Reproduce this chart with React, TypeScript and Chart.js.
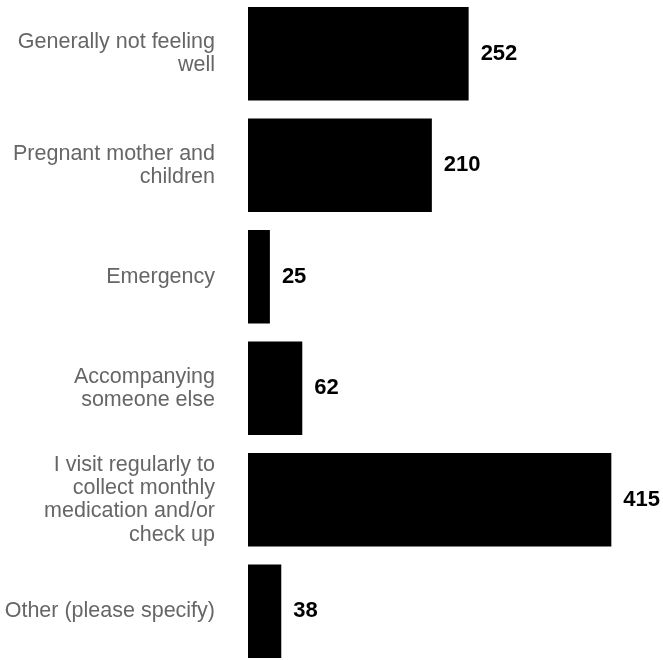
import React, { useEffect, useRef } from "react";
import { Chart, registerables } from "chart.js";

Chart.register(...registerables);

const categories: (string | string[])[] = [
  ["Generally not feeling", "well"],
  ["Pregnant mother and", "children"],
  "Emergency",
  ["Accompanying", "someone else"],
  ["I visit regularly to", "collect monthly", "medication and/or", "check up"],
  "Other (please specify)",
];
const values: number[] = [252, 210, 25, 62, 415, 38];

const FONT = "'Liberation Sans', Arial, Helvetica, sans-serif";

const valueLabels = {
  id: "valueLabels",
  afterDatasetsDraw(chart: any) {
    const ctx = chart.ctx;
    const meta = chart.getDatasetMeta(0);
    ctx.save();
    ctx.font = `bold 22px ${FONT}`;
    ctx.fillStyle = "#000000";
    ctx.textAlign = "left";
    ctx.textBaseline = "middle";
    meta.data.forEach((bar: any, i: number) => {
      ctx.fillText(String(values[i]), bar.x + 12, bar.y);
    });
    ctx.restore();
  },
};

export default function App() {
  const ref = useRef<HTMLCanvasElement | null>(null);
  useEffect(() => {
    if (!ref.current) return;
    const chart = new Chart(ref.current, {
      type: "bar",
      data: {
        labels: categories,
        datasets: [
          {
            data: values,
            backgroundColor: "#000000",
            borderWidth: 0,
            barPercentage: 0.837,
            categoryPercentage: 1,
          },
        ],
      },
      options: {
        indexAxis: "y",
        animation: false,
        responsive: false,
        maintainAspectRatio: false,
        layout: { padding: 0 },
        plugins: {
          legend: { display: false },
          tooltip: { enabled: false },
        },
        scales: {
          x: {
            display: false,
            min: 0,
            max: 474,
          },
          y: {
            afterFit: (scale: any) => {
              scale.width = 248;
              scale.paddingTop = 0;
              scale.paddingBottom = 0;
            },
            grid: { display: false, drawTicks: false },
            border: { display: false },
            ticks: {
              color: "#666666",
              padding: 33,
              crossAlign: "near",
              font: { family: FONT, size: 21.5, lineHeight: 1.08 },
            },
          },
        },
      },
      plugins: [valueLabels],
    });
    return () => chart.destroy();
  }, []);
  return (
    <div style={{ position: "absolute", left: 0, top: -2, width: 663, height: 669 }}>
      <canvas ref={ref} width={663} height={669} style={{ width: 663, height: 669, display: "block" }} />
    </div>
  );
}
